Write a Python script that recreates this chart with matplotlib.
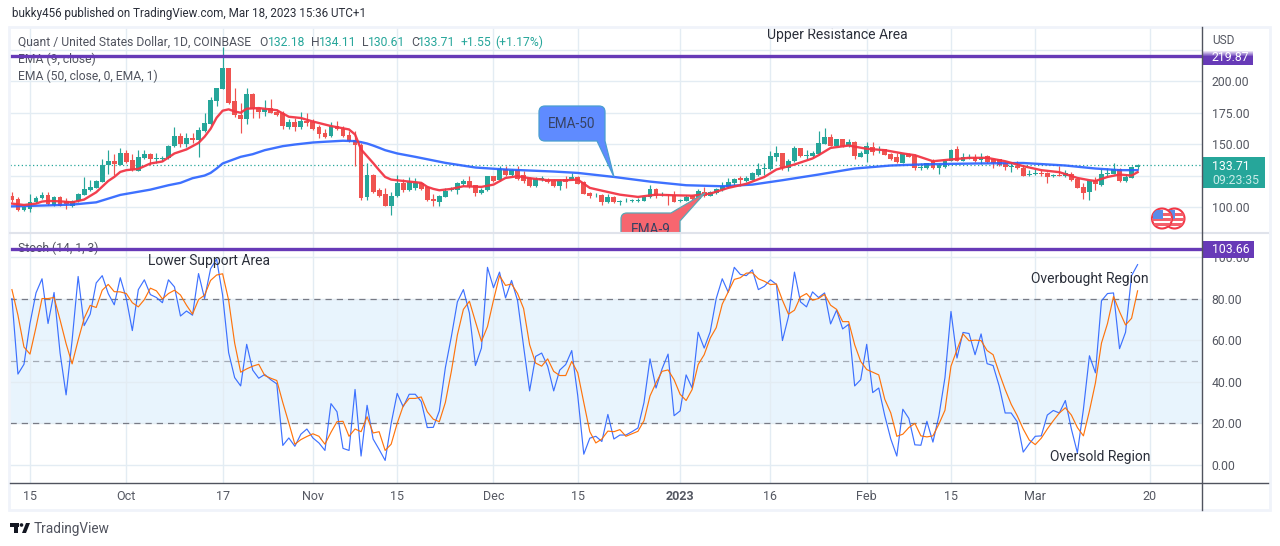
import matplotlib
matplotlib.use('Agg')
import matplotlib.pyplot as plt
from matplotlib.patches import Rectangle, PathPatch, Circle
from matplotlib.path import Path

plt.rcParams['font.family'] = ['Roboto', 'DejaVu Sans']

# daily candles, first one is 12 Sep 2022, last one 18 Mar 2023
opens = [109,106.7,97.3,98,103.7,107.4,109.6,101.9,108,104.5,100.5,104.5,109.8,113.3,115.2,120.2,133.3,136.2,133.5,142.6,
         137,128.5,138.6,141.8,138,138,138.8,148.4,156.1,150.5,154.5,153.2,160.1,165.7,184.3,194.2,210.4,184,173.4,169.7,
         189.6,179,175.5,178.7,175.5,174.5,163.3,167.6,163.3,168.4,168,163.3,158.5,156.1,164.4,161.7,156.9,153.2,149.7,107.7,
         125.8,113.8,110.6,101,108.5,119.4,113.8,115.2,119.2,116,106.4,104.3,108,113.8,113.3,118.6,120.7,117.6,111.4,113.3,
         124.5,121.3,130.3,125.8,129.8,125.5,122.9,117,121.8,121.8,120.7,116.5,122.3,121.8,123.9,119.7,111.2,109.3,109.8,104,
         108,104,104.5,104.5,105,105,108,114.6,110,110.4,109.8,104.5,105,108.5,106.4,112.2,109,111.2,113.3,116,
         119.2,122.9,120.7,121.8,125.5,130.3,130.3,139.4,142.6,131.4,136.2,146.6,140.2,140.4,141.8,150.5,155.9,148.9,153.7,148.9,
         152.1,139.9,142,147.9,145,145.8,141.8,139.4,135.1,142,140.4,130.9,130.9,136.2,130.9,131.9,136.7,145.8,136.7,139.1,
         139.9,137.2,140.4,137.8,137.8,135.1,132.2,132.5,131.4,125.3,126.1,127.1,127.1,124.5,125.5,124.5,126.6,122.3,116,111.7,
         121.8,117.6,126.1,126.6,130.3,120.7,123.4,132.18]
highs = [112.2,108,101,110,108.5,111.7,112.2,108.5,109,107.2,105.9,111.2,123.9,121.3,121.8,137.8,145,141.8,147,145,
         141.8,145,145,142.6,142.6,140.4,149.5,163.8,159,159,158.5,163.8,175,187.8,195,227,210.4,195,182.5,195,
         190.4,179.8,185,186.2,177.7,176.3,169.7,171,175.8,175,169.7,165,161.7,167.6,168.1,164.4,160.4,160.4,151,135.1,
         126.6,115.2,115.2,111.7,125.5,122.3,124,123,119.7,116.5,110.6,109.8,115.2,116,120,122.3,125,117.8,115.2,125,
         125,133,133,130.3,133,128.5,124,124,125,122.9,122.3,122.3,125,127,125,120.5,112.2,111.2,110.6,110.1,
         108.5,105.3,107.2,106.4,107.2,109,117.8,115.2,112.2,110.4,112.5,106.4,109.3,109.6,114.4,115.7,113,115.2,120,123.1,
         123.1,124.5,125,128.2,135.1,134.6,144.2,148.4,143.1,138.3,148.9,147,145,144.2,160.1,163,158.3,154.3,154.3,153.7,
         152.7,144.4,151.6,152.1,148.4,146.3,142.6,142.6,143.1,143.1,141.8,135.1,135.1,137.8,135.1,137.2,145.8,148.4,143.1,142,
         142,142.6,141,139.1,138.3,136.7,135.1,136.4,132.5,129.3,130.3,129.3,127.7,126.5,133,129.3,127.7,123.1,119.2,120.7,
         123.9,130.3,130.9,135.1,130.9,126.6,132.5,134.11]
lows = [103.8,97,96.5,95.7,103.2,106.4,101.6,100.5,100.5,98,100,103.7,109.3,112.8,114.9,120.2,126.6,125.8,133.3,135,
        128.5,128.5,138.3,133.8,134.6,136.4,138.3,147.9,147.9,147.9,151,139.6,159.6,165.4,180.3,193.6,181.7,171.8,158.5,165.7,
        171,170.8,172.4,174.5,172.4,161.7,161.7,160.4,161.7,164.4,161.2,155,155,155.9,161.2,155.9,151.6,132.5,105.9,105.9,
        111.2,108,100.5,93.9,108,112,113,113.8,113.8,104.5,100.5,100.5,107.7,112.5,110.6,117,115.2,109,110.6,112.5,
        119.7,120.5,125,125,121.8,119.2,116,116,120.7,119.2,116,113.3,115.4,121.3,118,110,106.9,108,101.9,103.2,
        103.2,101.9,104,104,104,104.5,107.2,107.4,108.5,101.9,103.7,104,104.5,105.9,105.9,108,108.5,110.6,113,115.2,
        116.5,116.5,119.7,121.3,125,125.5,129.8,136.4,129.3,128.5,135.6,139.9,137.8,138.8,141.2,150,148.4,148.4,147.9,147.9,
        138.3,139.4,135.6,141,142.6,141,137.2,135.1,134.6,139.4,129.3,129.8,130.3,130.3,126.6,130.9,136.2,136.2,136.2,137.8,
        135.6,134,134.6,130.9,132.5,129.3,128.2,130.3,124.5,124.5,125.5,124.5,119.2,124,124.5,123.9,120.7,114.9,106.7,105.9,
        113.8,117,123.9,126.1,120.2,120.2,122.9,130.61]
closes = [105.9,97.3,100,104,107.4,109.6,102.7,108,100.5,102,104.5,110.6,114.6,116.2,121,133.5,136.2,134,142.6,135.9,
          129.3,139.4,141.8,137.8,138.8,138.6,148.9,156.1,150.3,154.5,153.5,160.9,166.5,184.9,194.4,210.4,183,172.9,169.7,189.6,
          178.2,175.5,178.2,174.5,172.9,164.4,167.6,163.3,168.4,166.5,161.7,157.7,155.9,164.4,161.7,156.4,152.4,149.2,107.2,125.8,
          112.2,109,101,109,119.4,113.8,120,119.2,114.4,105.3,105,109,112.5,114.6,119.2,120.7,116.5,111.4,113.8,124.5,
          120.7,130.3,125.8,129.8,122.3,120.7,117,122.3,122.9,119.7,116.5,120.7,119.7,123.9,118.6,110.6,108.5,109.8,104.3,108,
          104,104.5,105,105.6,105.9,108,114.4,108.5,110.6,109.6,104.3,105.9,108.2,106.4,112.5,108.5,112.2,114.6,116.5,120.2,
          122.6,121.3,122.9,126.9,130.6,131.4,140.2,142.6,131.1,136.2,146.6,140.4,141,143.1,151,155.9,148.9,153.7,148.9,152.1,
          140.4,142.6,148.4,143.6,145.8,141.5,137.8,135.6,142,139.9,130.9,131.7,134.6,130.9,133.5,136.2,145.2,136.7,139.9,139.9,
          136.7,139.9,135.6,135.1,133.5,131.9,132.7,130.9,125,126.6,127.1,126.6,123.9,125.5,124.7,127.1,121.3,115.4,111.2,120.7,
          118.1,126.6,127.1,130.3,120.7,123.9,131.9,133.71]

# EMA lines read at the bends only
ema9_days = [0,2,4,5,6,8,10,12,14,16,17,18,19,21,23,25,27,29,31,32,33,34,35,36,37,38,39,41,44,46,48,50,53,56,57,58,59,60,61,62,63,65,67,
             68,69,70,71,73,75,78,80,82,84,86,89,92,94,96,98,101,104,107,110,113,116,119,122,125,127,130,133,134,
             136,139,142,145,148,150,153,156,159,162,165,168,171,174,177,179,180,182,184,186,187]
ema9_vals = [102.7,101.6,102.7,104.3,104.8,104.5,103.7,105.9,111.7,120.7,123.9,127.9,129.3,130.3,134.6,136.2,142.6,145.8,151,155.9,162.2,171,176.6,177.7,176,175,178.2,178.7,177,171.8,170.8,168,164.4,161.7,157.7,145.8,140.4,135,129.3,123.9,121.8,120.7,119.7,
             119.2,116,114.4,113.3,114.4,116.5,116,117.8,123.1,124.5,122.9,121.3,121.3,121.8,115.2,113,109.8,108,109.8,109.3,109,110.6,115.2,118.4,123.9,129.8,133.8,138.6,141.2,
             147,148.9,146.3,145.2,142.6,141.2,136.4,137.8,139.1,139.1,136.4,132.5,129.3,127.7,123.1,121.3,120.7,123.9,125.8,125,127.7]
ema50_days = [0,4,10,14,18,23,26,28,30,32,33,34,35,36,38,40,42,45,47,50,52,55,57,58,59,60,61,62,64,67,72,77,82,90,94,100,106,112,118,123,128,134,140,146,152,160,168,175,180,184,187]
ema50_vals = [100.5,101,101.9,103.7,109.6,113.8,117.3,119.2,122.9,125,127.1,130.6,134.6,136.4,139.9,142,145.2,148.4,149.7,151.3,151.9,152.7,152.4,151.6,150.5,148.9,147.1,145.2,142.6,139.9,135.1,131.4,129.8,128.2,127.1,123.9,120.2,117.3,116.5,117.8,121.3,125.8,130.6,133,134,134.6,135,133,130.6,129.3,129.3]

# stochastic, one value per candle
stoch_k = [80,43.7,48.4,68,82.7,89.5,68,82.9,53.8,33.7,60,90.6,67,72.5,87.5,91,82.4,77,90,80,
           64.6,84.3,89,81.9,80.5,78,89,85.6,71.6,74,72,92,80,94.3,99,81.6,54,42,38,58,
           45.6,41.7,43.5,41,39,9.4,13,9,14.8,17.3,13,10.6,7,29.5,25.6,8,7,36.3,4.3,28.7,
           12.5,7.5,2.2,20,34.4,28,34,34,30.5,18,18.1,26,46.7,61.7,78.4,84.3,73,47.8,56.2,95,
           85.2,92.7,80.3,88.7,79,57,35.6,52.2,53.8,47.5,35.6,45.6,48.3,55,33.2,5.2,12.9,13.8,11.3,24.3,
           12.5,14.4,14.4,16,17.8,30,51,37,46.2,53.3,23.7,26,43.3,37,63.8,56.2,64,80,89.5,83,
           95,91.6,91,93.8,84.3,85.9,89,86.8,59.8,71.3,92.7,78.4,76,83.2,80.5,82.7,67.8,74.4,65.4,67.6,
           38,41,58,34.8,37,23.7,12.5,4.3,26.8,22.4,9.7,9.5,21,11,23.7,42,73.8,51.4,63.7,63.2,
           53,63,48.7,47.8,38,25,25,20.8,6.2,10.2,13.8,14,24,26.2,25,31,17.3,5.9,26.8,52.5,
           44.3,78.9,82.4,82.7,55.9,63.8,91,96.3]
stoch_d = [84.3,72,56.7,53.3,66.2,80,80,80.5,69.7,58.3,48.6,60,70.5,76.7,75.7,84,86.8,83.3,83.2,82.4,
           78,76,79.5,85,83.7,79.8,82.4,84,81.7,76.8,72.5,79.5,81.6,88.7,91.3,91.9,79.2,58.6,44.6,46.2,
           47.5,48.4,43,41.7,40.6,30,20.2,10,12.2,13.7,15,13.8,10,15.7,20.8,21,13.8,17.3,16,23.2,
           15.4,16,7,10,20,28.4,32,32,32.7,25.6,22,20.8,30,45,62.5,74.8,78.7,68.9,59.4,66.5,
           79.2,91,86.3,87,82.4,75.2,57.8,49,47.5,51,45,43,43,49.8,44.3,30,16,10.6,12.5,16.3,
           16,17,13.8,15,16.2,21.3,33.2,39.5,45,45.7,41,34,31,36.3,48.3,53,61,66,77.3,83.2,
           89.2,90,92.2,92.4,89.5,88.3,86.7,87,79.2,72.5,74.4,80.8,82.4,79.2,80,82,76.8,74.8,68.9,68.9,
           57.8,49.8,45.9,44.6,43.3,31.6,25,13.8,14.8,18,20,14,13.5,14,19.7,26.3,47.5,55.4,63,59.7,
           60,59.8,55,53,44.3,36.3,29.2,23.7,17.3,12,9.8,12.9,17.3,21.3,25,27.5,24,18,14,26,
           39.5,58.6,68,81,73.7,67.3,70.5,83.7]

price_ticks = [100, 125, 150, 175, 200, 225]
price_labels = ['100.00', '', '150.00', '175.00', '200.00', '']
stoch_ticks = [0, 20, 40, 60, 80, 100]
stoch_labels = ['0.00', '20.00', '40.00', '60.00', '80.00', '100.00']
date_ticks = [3, 19, 35, 50, 64, 80, 94, 111, 126, 142, 156, 170, 189]
date_labels = ['15', 'Oct', '17', 'Nov', '15', 'Dec', '15', '2023', '16', 'Feb', '15', 'Mar', '20']

last_price = 133.71
upper_level = 219.87
lower_level = 103.66

W, H = 1280, 546
UP = '#26a69a'
DOWN = '#ef5350'
PURPLE = '#673ab7'
GRID = '#e3ecf3'
TXT = '#50535e'
DARK = '#2a2e39'
AXTXT = '#555862'
SCALE = '#50535e'


def add_ax(x0, y0, x1, y1):
    return fig.add_axes([x0 / W, 1 - y1 / H, (x1 - x0) / W, (y1 - y0) / H])


def round_poly(pts):
    # pts are (x, y, r), r=0 gives a sharp corner
    verts, codes = [], []
    n = len(pts)
    for k in range(n):
        px0, py0, _ = pts[k - 1]
        x, y, r = pts[k]
        nx, ny, _ = pts[(k + 1) % n]
        if r == 0:
            verts.append((x, y))
            codes.append(Path.LINETO)
            continue
        d0 = ((px0 - x) ** 2 + (py0 - y) ** 2) ** 0.5
        d1 = ((nx - x) ** 2 + (ny - y) ** 2) ** 0.5
        verts += [(x + (px0 - x) * r / d0, y + (py0 - y) * r / d0), (x, y), (x + (nx - x) * r / d1, y + (ny - y) * r / d1)]
        codes += [Path.LINETO, Path.CURVE3, Path.CURVE3]
    codes[0] = Path.MOVETO
    verts.append(verts[0])
    codes.append(Path.CLOSEPOLY)
    return Path(verts, codes)


fig = plt.figure(figsize=(W / 100, H / 100), dpi=100, facecolor='white')

ax1 = add_ax(10, 27, 1202, 233)
ax2 = add_ax(10, 233, 1202, 483)
# pixel overlay for the price scale boxes and frame
px = fig.add_axes([0, 0, 1, 1], zorder=10)
px.set_xlim(0, W)
px.set_ylim(H, 0)
px.axis('off')

for ax in (ax1, ax2):
    ax.set_xlim(-0.32, 197.7)
    for s in ax.spines.values():
        s.set_visible(False)
    ax.set_xticks(date_ticks)
    ax.grid(True, color=GRID, lw=1)
    ax.set_axisbelow(True)
    ax.yaxis.tick_right()
    ax.tick_params(length=0)

ax1.set_ylim(79.3, 243.2)
ax1.set_yticks(price_ticks, price_labels)
ax1.tick_params(axis='x', labelbottom=False)
ax2.set_ylim(-8.65, 111.5)
ax2.set_yticks(stoch_ticks, stoch_labels)
ax2.set_xticks(date_ticks, date_labels)
ax2.tick_params(axis='x', labelsize=9, labelcolor=AXTXT, pad=5)
for lb in ax2.get_xticklabels():
    if lb.get_text() == '2023':
        lb.set_fontweight('bold')
for ax in (ax1, ax2):
    ax.tick_params(axis='y', labelsize=8.8, labelcolor=AXTXT, pad=7)
    for lb in ax.get_yticklabels():
        lb.set_ha('left')

# candles
days = list(range(len(closes)))
cols = [UP if c >= o else DOWN for o, c in zip(opens, closes)]
ax1.vlines(days, lows, highs, colors=cols, lw=0.85, zorder=3)
ax1.bar(days, [abs(c - o) for o, c in zip(opens, closes)], bottom=[min(o, c) for o, c in zip(opens, closes)],
        width=0.8, color=cols, lw=0, zorder=3)

ax1.axhline(last_price, color=UP, ls=(0, (1, 2)), lw=0.9, zorder=2)
ax1.plot(ema50_days, ema50_vals, color='#2962ff', lw=1.7, alpha=0.9, zorder=4)
ax1.plot(ema9_days, ema9_vals, color='#f23645', lw=1.7, alpha=0.95, zorder=4)
ax1.axhline(upper_level, color=PURPLE, lw=2.4, zorder=6)

# stoch pane
ax2.axhspan(20, 80, color='#2196f3', alpha=0.1, lw=0, zorder=0)
ax2.axhline(80, color='#787b86', ls=(0, (5, 4)), lw=0.9, zorder=1)
ax2.axhline(50, color='#787b86', ls=(0, (5, 4)), lw=0.9, alpha=0.6, zorder=1)
ax2.axhline(20, color='#787b86', ls=(0, (5, 4)), lw=0.9, zorder=1)
ax2.plot(days, stoch_k, color='#2962ff', lw=0.85, alpha=0.9, zorder=3)
ax2.plot(days, stoch_d, color='#ff6d00', lw=0.85, alpha=0.95, zorder=4)
ax2.axhline(lower_level, color=PURPLE, lw=2.4, zorder=6)


def ptext(ax, x, y, s, **kw):
    kw.setdefault('fontsize', 8.7)
    kw.setdefault('color', TXT)
    kw.setdefault('va', 'center')
    kw.setdefault('clip_on', False)
    return ax.text(x, y, s, transform=px.transData, **kw)


# callouts
blue_box = round_poly([(539, 106, 6), (605, 106, 6), (605, 141, 0), (614, 177, 0), (597, 141, 0), (539, 141, 6)])
ax1.add_patch(PathPatch(blue_box, transform=px.transData, fc='#5f8bff', ec='#4a9fd0', lw=0.9, zorder=7))
ptext(ax1, 572, 124, 'EMA-50', color='#374263', ha='center', fontsize=9.8, zorder=8)
red_box = round_poly([(621, 213, 6), (671, 213, 0), (705, 193, 0), (680, 221, 0), (680, 245, 6), (621, 245, 6)])
ax1.add_patch(PathPatch(red_box, transform=px.transData, fc='#f7666f', ec='#5ba7b5', lw=0.9, zorder=7))
ptext(ax1, 651, 230, 'EMA-9', color='#374263', ha='center', fontsize=9.8, zorder=8, clip_on=True)

# currency icon
for cx in (1174.5, 1162):
    disc = Circle((cx, 218.5), 10, transform=px.transData, fc='white', ec='#f23645', lw=1.5, zorder=7)
    ax1.add_patch(disc)
    for sy in (213, 218, 223):
        st = Rectangle((cx - 10, sy), 20, 3, transform=px.transData, fc='#f4606c', lw=0, zorder=7)
        ax1.add_patch(st)
        st.set_clip_path(disc)
    can = Rectangle((cx - 9, 210), 9.5, 9, transform=px.transData, fc='#5b8ce8', lw=0, zorder=7)
    ax1.add_patch(can)
    can.set_clip_path(disc)

# legend text, sits under the purple lines
ptext(ax1, 18, 42, 'Quant / United States Dollar, 1D, COINBASE', zorder=5)
ohlc = [(259, 'O', TXT), (268, '132.18', UP), (311, 'H', TXT), (319, '134.11', UP), (362, 'L', TXT), (368, '130.61', UP),
        (411, 'C', TXT), (418, '133.71', UP), (461, '+1.55', UP), (495, '(+1.17%)', UP)]
for x, s, c in ohlc:
    ptext(ax1, x, 42, s, color=c, zorder=5)
ptext(ax1, 18, 59, 'EMA (9, close)', zorder=5)
ptext(ax1, 18, 76, 'EMA (50, close, 0, EMA, 1)', zorder=5)
ptext(ax2, 18, 248, 'Stoch (14, 1, 3)', zorder=5)

ptext(ax1, 837, 34.5, 'Upper Resistance Area', ha='center', color=DARK, fontsize=10, zorder=8)
ptext(ax2, 209, 261.5, 'Lower Support Area', ha='center', color=DARK, fontsize=10, zorder=8)
ptext(ax2, 1090, 279.5, 'Overbought Region', ha='center', color=DARK, fontsize=10, zorder=8)
ptext(ax2, 1100, 456.5, 'Oversold Region', ha='center', color=DARK, fontsize=10, zorder=8)

# frame and scale lines
FRAME = '#f0f3fa'
px.add_patch(Rectangle((8.5, 26.5), 1261, 483, fc='none', ec=FRAME, lw=2))
px.plot([10, 1268], [233, 233], color='#e0e3eb', lw=1.5)
px.plot([10, 1268], [483, 483], color=SCALE, lw=1)
px.plot([1202, 1202], [27, 510], color=SCALE, lw=1)

ptext(px, 1212, 41, 'USD', color=AXTXT, fontsize=8.6)

# scale boxes
for k in range(6):
    t = k / 6
    c = (1 + (0x67 / 255 - 1) * t, 1 + (0x3a / 255 - 1) * t, 1 + (0xb7 / 255 - 1) * t)
    px.add_patch(Rectangle((1203, 50 + k), 50, 1, fc=c, lw=0))
px.add_patch(Rectangle((1203, 56), 50, 9, fc=PURPLE, lw=0))
ptext(px, 1212, 57.5, '219.87', color='white', fontsize=8.8)
px.add_patch(Rectangle((1203, 157), 62, 31, fc=UP, lw=0))
ptext(px, 1212, 166, '133.71', color='white', fontsize=8.8)
ptext(px, 1212, 180, '09:23:35', color='#c9ece8', fontsize=8.8)
px.add_patch(Rectangle((1203, 241), 51, 17, fc=PURPLE, lw=0))
ptext(px, 1212, 249.5, '103.66', color='white', fontsize=8.8)

# header and footer
ptext(px, 12, 14, 'bukky456 published on TradingView.com, Mar 18, 2023 15:36 UTC+1', color=DARK, fontsize=8.4)
px.add_patch(Rectangle((10, 523), 9, 3.5, fc='#131722', lw=0))
px.add_patch(Rectangle((14, 523), 4, 10, fc='#131722', lw=0))
px.add_patch(PathPatch(Path([(22, 533), (26, 523), (30, 523), (26, 533), (22, 533)]), fc='#131722', lw=0))
px.add_patch(Circle((21.5, 525), 1.8, fc='#131722', lw=0))
ptext(px, 34, 528.5, 'TradingView', color='#50535e', fontsize=9.8)

fig.savefig('out.png', dpi=100)
